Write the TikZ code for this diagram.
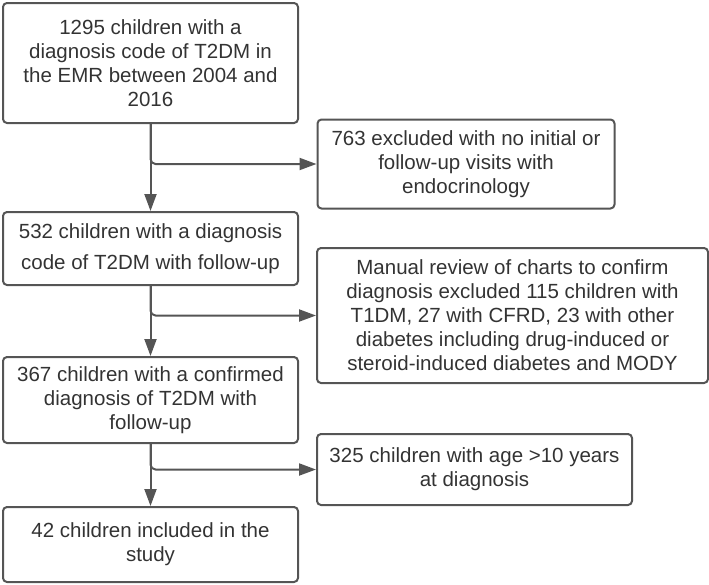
\documentclass[tikz,border=0pt]{standalone}
\usepackage{fontspec}
\setmainfont{Liberation Sans}
\usetikzlibrary{arrows.meta}
\definecolor{ink}{HTML}{333333}
\definecolor{edge}{HTML}{555555}

\begin{document}
\begin{tikzpicture}[x=1pt,y=-1pt,
  stage/.style={draw=edge,line width=2pt,rounded corners=4pt,align=center,text=ink,inner sep=0pt,font=\fontsize{20.5}{24}\selectfont},
  flow/.style={-{Triangle[length=17pt,width=12pt]},line width=2pt,draw=edge}
]
  \useasboundingbox (0,0) rectangle (709,584);
  % main stream
  \node[stage,minimum width=295pt,minimum height=120pt] (b1295) at (150.5,63) {1295 children with a\\diagnosis code of T2DM in\\the EMR between 2004 and\\2016};
  \node[stage,minimum width=295pt,minimum height=73pt] (b532) at (150.5,248.5) {532 children with a diagnosis\\[7pt]code of T2DM with follow-up};
  \node[stage,minimum width=295pt,minimum height=86pt] (b367) at (150.5,400) {367 children with a confirmed\\diagnosis of T2DM with\\follow-up};
  \node[stage,minimum width=295pt,minimum height=75pt] (b42) at (150.5,544.5) {42 children included in the\\study};
  % exclusions
  \node[stage,minimum width=297pt,minimum height=89pt] (ex763) at (466,164) {763 excluded with no initial or\\follow-up visits with\\endocrinology};
  \node[stage,minimum width=391pt,minimum height=135pt] (ex165) at (512.5,315.5) {Manual review of charts to confirm\\diagnosis excluded 115 children with\\T1DM, 27 with CFRD, 23 with other\\diabetes including drug-induced or\\steroid-induced diabetes and MODY};
  \node[stage,minimum width=315pt,minimum height=71pt] (ex325) at (474.5,469.5) {325 children with age >10 years\\at diagnosis};
  \draw[flow] (b1295.south) -- (b532.north);
  \draw[flow,rounded corners=5pt] (b1295.south) |- (ex763.west);
  \draw[flow] (b532.south) -- (b367.north);
  \draw[flow,rounded corners=5pt] (b532.south) |- (ex165.west);
  \draw[flow] (b367.south) -- (b42.north);
  \draw[flow,rounded corners=5pt] (b367.south) |- (ex325.west);
\end{tikzpicture}
\end{document}
